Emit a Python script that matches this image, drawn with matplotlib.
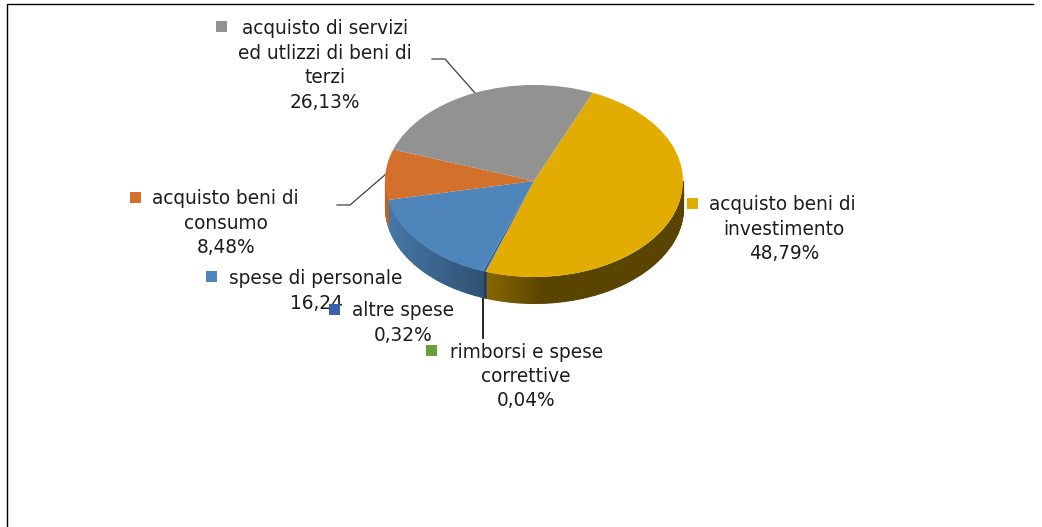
#! /usr/bin/env python
# -*- coding: utf-8 -*-
# Pie chart with a fake 3D wall and hand placed labels
import numpy as np
import matplotlib
matplotlib.use('Agg')
import matplotlib.pyplot as plt
from matplotlib.patches import Rectangle

# Data, clockwise from the yellow slice
names  = ['acquisto beni di\ninvestimento', 'rimborsi e spese\ncorrettive',
          'altre spese', 'spese di personale',
          'acquisto beni di\nconsumo',
          'acquisto di servizi\ned utlizzi di beni di\nterzi']
values = [48.79, 0.04, 0.32, 16.24, 8.48, 26.13]
colors = ['#E2AC00', '#6A9F3E', '#3A62A8', '#4E86BC', '#D2702C', '#929292']

W, H = 1042, 527
start_angle = 66.8
depth = 0.27  # wall height, in pie radii


def wall_shade(x):
    """ Darkening factor of the wall at horizontal position x """
    return np.interp(x, [-1., -0.32, 0.06, 1.], [0.9, 0.6, 0.4, 0.4])


def plot_wall(ax, theta1, theta2, color):
    """ Draws the front wall of one slice, angles in degrees (theta1 > theta2) """
    base = np.array(matplotlib.colors.to_rgb(color))
    # Only the front half of the pie shows a wall
    theta1 = min(theta1, 360.)
    theta2 = max(theta2, 180.)
    if theta1 <= theta2:
        return
    edges = np.radians(np.linspace(theta2, theta1, int(theta1 - theta2) + 2))
    for a0, a1 in zip(edges[:-1], edges[1:]):
        xx = np.array([np.cos(a0), np.cos(a1)])
        yy = np.array([np.sin(a0), np.sin(a1)])
        c = base * wall_shade(xx.mean())
        ax.fill_between(xx, yy - depth, yy, color=c, lw=0.8, antialiased=False,
                        clip_on=False)


def plot_label(ax, text, value, marker_xy, first_x, center_x, first_y, pitch=24.4, z=6):
    """ Marker, first line left aligned, other lines and value centered """
    ax.add_patch(Rectangle(marker_xy[0], 11, 11, color=marker_xy[1], lw=0, zorder=z))
    lines = text.split('\n')
    font = dict(fontsize=13.35, color='#1c1c1c', va='center', zorder=z)
    ax.text(first_x, first_y, lines[0], ha='left', **font)
    rest = lines[1:] + ['{0:.2f}%'.format(value).replace('.', ',')]
    for i, line in enumerate(rest):
        ax.text(center_x, first_y + (i + 1) * pitch, line, ha='center', **font)


def main():
    """ Main function """
    plt.rcParams['font.family'] = ['DejaVu Sans']
    fig = plt.figure(figsize=(W / 100., H / 100.), dpi=100, facecolor='white')
    #
    # Background axes in pixel coordinates
    bg = fig.add_axes([0, 0, 1, 1])
    bg.set_xlim(0, W)
    bg.set_ylim(H, 0)
    bg.axis('off')
    # Chart frame
    bg.plot([7, 7, 1033], [H, 4, 4], color='black', lw=1.0)
    #
    # Pie axes, stretched so the circle becomes the top ellipse
    x0, x1, y0, y1 = 385, 683, 85, 277
    ax = fig.add_axes([x0 / W, 1 - y1 / H, (x1 - x0) / W, (y1 - y0) / H], zorder=2)
    angle = start_angle
    for val, col in zip(values, colors):
        next_angle = angle - val * 3.6
        # Wall may fall on either side of the 0 deg wrap
        plot_wall(ax, angle % 360. if angle < 0 else angle + 360., next_angle + 360., col)
        angle = next_angle
    ax.pie(values, colors=colors, startangle=start_angle, counterclock=False,
           radius=1., wedgeprops=dict(lw=0))
    ax.set_aspect('auto')
    ax.set_xlim(-1, 1)
    ax.set_ylim(-1, 1)
    #
    # Leader lines
    bg.plot([432, 445, 475], [59, 59, 93], color='#404040', lw=0.9)
    bg.plot([337, 350, 386], [205, 205, 174], color='#404040', lw=0.9)
    bg.plot([483, 483], [298, 338], color='black', lw=1.2)
    #
    # Labels
    plot_label(bg, names[0], values[0], ((687, 198), colors[0]), 709, 784, 205)
    plot_label(bg, names[4], values[4], ((130, 192), colors[4]), 152, 226, 199)
    plot_label(bg, names[5], values[5], ((216, 21), colors[5]), 242, 325, 29)
    plot_label(bg, names[3], values[3], ((206, 271), colors[3]), 229, 325, 279, z=5)
    # The box of this label hides the end of the one above
    bg.add_patch(Rectangle((342, 293), 114, 55, color='white', lw=0, zorder=5.5))
    plot_label(bg, names[2], values[2], ((329, 304), colors[2]), 352, 403, 311)
    plot_label(bg, names[1], values[1], ((426, 345), colors[1]), 450, 526, 352)
    #
    fig.savefig('out.png', dpi=100)


if __name__ == '__main__':
    main()
